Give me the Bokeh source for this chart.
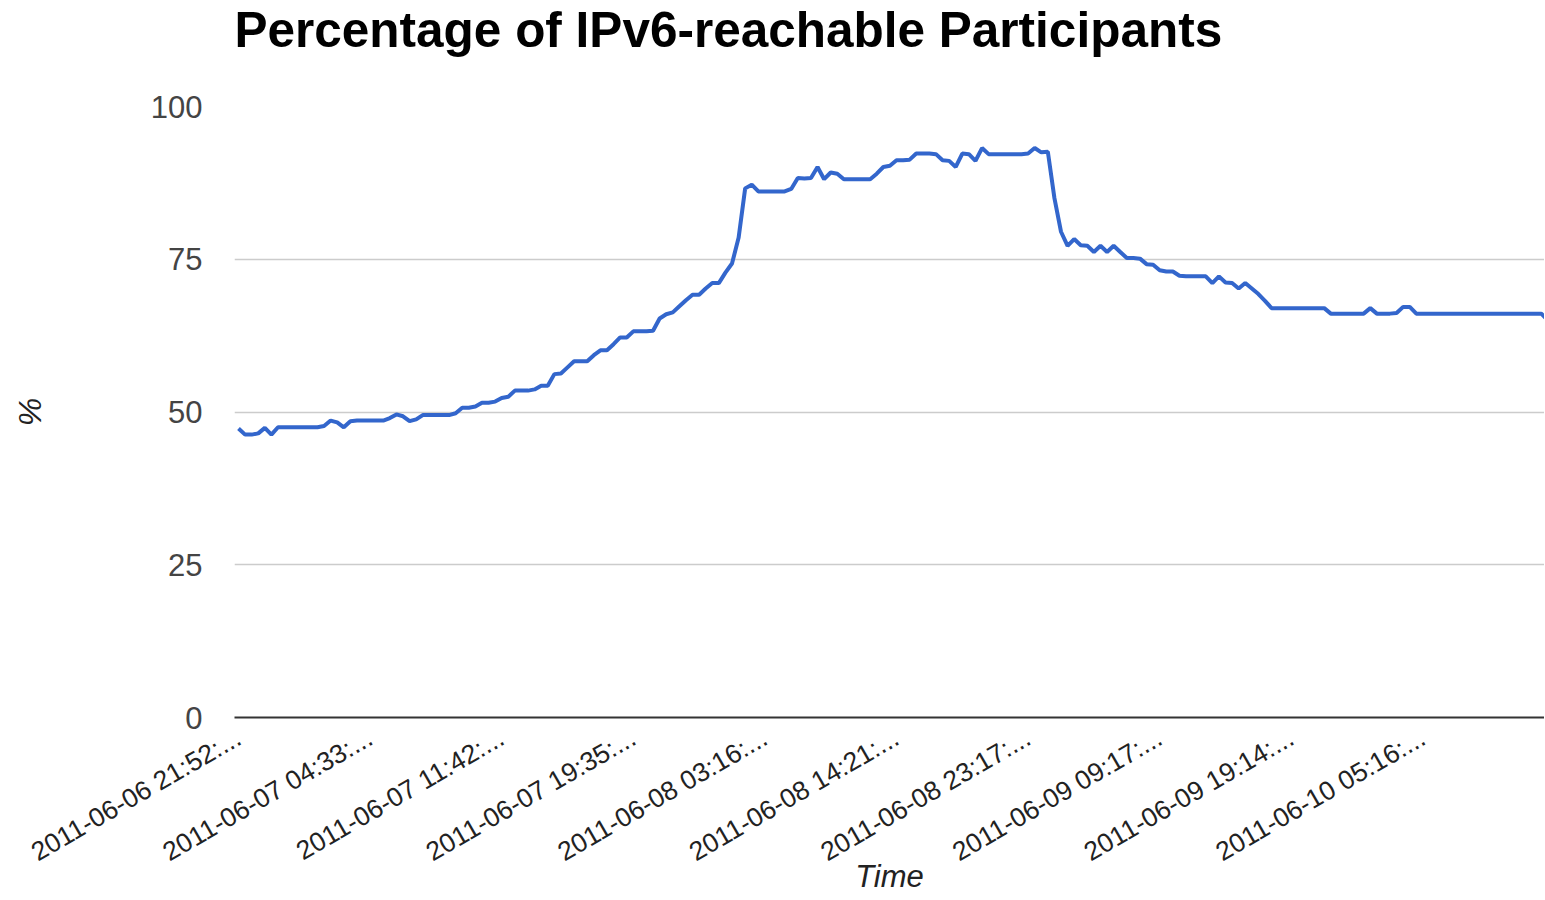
import math
from bokeh.plotting import figure
from bokeh.models import Range1d, FixedTicker, Title
from bokeh.embed import file_html
from bokeh.resources import INLINE

# ---- data ----
title_text = "Percentage of IPv6-reachable Participants"
x_title = "Time"
y_title = "%"
tick_labels = [
    "2011-06-06 21:52:...", "2011-06-07 04:33:...", "2011-06-07 11:42:...",
    "2011-06-07 19:35:...", "2011-06-08 03:16:...", "2011-06-08 14:21:...",
    "2011-06-08 23:17:...", "2011-06-09 09:17:...", "2011-06-09 19:14:...",
    "2011-06-10 05:16:...",
]
label_every = 20

percent = [
    47.3, 46.3, 46.3, 46.5, 47.4, 46.3, 47.5, 47.5, 47.5, 47.5,
    47.5, 47.5, 47.5, 47.7, 48.6, 48.3, 47.5, 48.5, 48.6, 48.6,
    48.6, 48.6, 48.6, 49.0, 49.6, 49.3, 48.5, 48.8, 49.5, 49.5,
    49.5, 49.5, 49.5, 49.8, 50.7, 50.7, 50.9, 51.5, 51.5, 51.7,
    52.3, 52.5, 53.5, 53.5, 53.5, 53.7, 54.3, 54.3, 56.2, 56.3,
    57.3, 58.3, 58.3, 58.3, 59.3, 60.1, 60.1, 61.1, 62.2, 62.2,
    63.2, 63.2, 63.2, 63.3, 65.3, 66.0, 66.3, 67.3, 68.3, 69.2,
    69.2, 70.2, 71.1, 71.1, 72.8, 74.3, 78.5, 86.6, 87.2, 86.1,
    86.1, 86.1, 86.1, 86.1, 86.5, 88.3, 88.2, 88.3, 90.1, 88.1,
    89.2, 89.0, 88.1, 88.1, 88.1, 88.1, 88.1, 89.0, 90.1, 90.3,
    91.2, 91.2, 91.3, 92.3, 92.3, 92.3, 92.2, 91.2, 91.1, 90.1,
    92.3, 92.2, 91.1, 93.2, 92.2, 92.2, 92.2, 92.2, 92.2, 92.2,
    92.3, 93.2, 92.5, 92.6, 85.0, 79.5, 77.2, 78.3, 77.3, 77.2,
    76.2, 77.2, 76.2, 77.2, 76.2, 75.2, 75.2, 75.1, 74.2, 74.1,
    73.2, 73.0, 73.0, 72.3, 72.2, 72.2, 72.2, 72.2, 71.1, 72.2,
    71.2, 71.1, 70.2, 71.1, 70.2, 69.3, 68.2, 67.0, 67.0, 67.0,
    67.0, 67.0, 67.0, 67.0, 67.0, 67.0, 66.1, 66.1, 66.1, 66.1,
    66.1, 66.1, 67.0, 66.1, 66.1, 66.1, 66.2, 67.2, 67.2, 66.1,
    66.1, 66.1, 66.1, 66.1, 66.1, 66.1, 66.1, 66.1, 66.1, 66.1,
    66.1, 66.1, 66.1, 66.1, 66.1, 66.1, 66.1, 66.1, 66.1, 65.0,
]
y_ticks = [0, 25, 50, 75, 100]

idx = list(range(len(percent)))
tick_pos = [i * label_every for i in range(len(tick_labels))]

FONT = "Liberation Sans"

p = figure(frame_width=1310, frame_height=611,
           output_backend="svg", toolbar_location=None,
           x_range=Range1d(-0.61, 198.48), y_range=Range1d(0, 100),
           min_border_left=234, min_border_right=0, min_border_top=106,
           min_border_bottom=0)

p.outline_line_color = None
p.background_fill_color = "white"
p.border_fill_color = "white"

# spacer between frame and title, then the title itself (outermost)
p.add_layout(Title(text=" ", text_font_size="1px", standoff=45), "above")
p.add_layout(Title(text=title_text, text_font=FONT, text_font_size="49.5px",
                   text_font_style="bold", text_color="#000000",
                   vertical_align="top", standoff=0, offset=0), "above")

p.line(idx, percent, line_color="#3366cc", line_width=4)

# y axis
p.yaxis.ticker = FixedTicker(ticks=y_ticks)
p.yaxis.axis_line_color = None
p.yaxis.major_tick_line_color = None
p.yaxis.minor_tick_line_color = None
p.yaxis.major_tick_out = 0
p.yaxis.minor_tick_out = 0
p.yaxis.major_label_text_font = FONT
p.yaxis.major_label_text_font_size = "31px"
p.yaxis.major_label_text_color = "#444444"
p.yaxis.major_label_standoff = 32
p.yaxis.axis_label = y_title
p.yaxis.axis_label_text_font = FONT
p.yaxis.axis_label_text_font_size = "32px"
p.yaxis.axis_label_text_font_style = "italic"
p.yaxis.axis_label_text_color = "#222222"
p.yaxis.axis_label_standoff = 100

# x axis
p.xaxis.ticker = FixedTicker(ticks=tick_pos)
p.xaxis.major_label_overrides = {t: s for t, s in zip(tick_pos, tick_labels)}
p.xaxis.major_label_orientation = math.pi / 6
p.xaxis.axis_line_color = "#333333"
p.xaxis.axis_line_width = 2
p.xaxis.major_tick_line_color = None
p.xaxis.minor_tick_line_color = None
p.xaxis.major_tick_out = 0
p.xaxis.minor_tick_out = 0
p.xaxis.major_label_text_font = FONT
p.xaxis.major_label_text_font_size = "26.5px"
p.xaxis.major_label_text_color = "#222222"
p.xaxis.major_label_standoff = 18
p.xaxis.axis_label = x_title
p.xaxis.axis_label_text_font = FONT
p.xaxis.axis_label_text_font_size = "31px"
p.xaxis.axis_label_text_font_style = "italic"
p.xaxis.axis_label_text_color = "#222222"
p.xaxis.axis_label_standoff = -24

p.xgrid.grid_line_color = None
p.ygrid.grid_line_color = "#cccccc"
p.ygrid.grid_line_width = 1.5

open("out.html", "w").write(file_html(p, INLINE))
